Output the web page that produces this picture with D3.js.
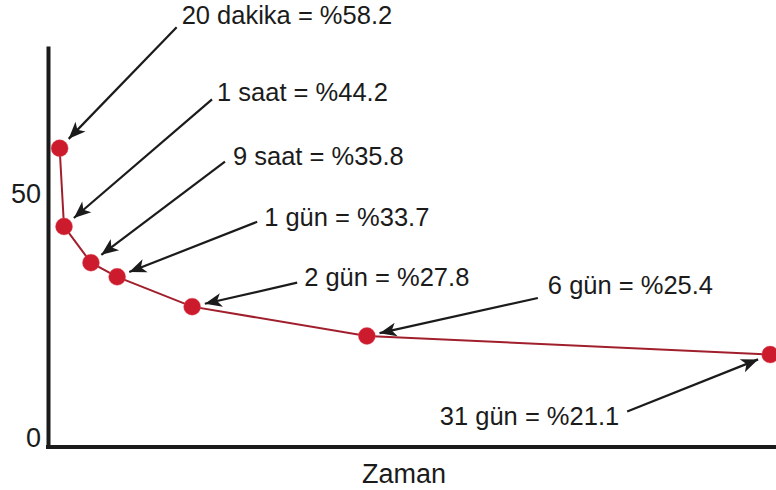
<!DOCTYPE html>
<html>
<head>
<meta charset="utf-8">
<script src="https://cdn.jsdelivr.net/npm/d3@7"></script>
<style>
  html, body { margin: 0; padding: 0; background: #fff; }
  svg { display: block; }
</style>
</head>
<body>
<svg id="chart"></svg>
<script>
// Ebbinghaus style forgetting curve (time axis drawn unscaled in the original)
const times = ["20 dakika", "1 saat", "9 saat", "1 gün", "2 gün", "6 gün", "31 gün"];
const retained = ["58.2", "44.2", "35.8", "33.7", "27.8", "25.4", "21.1"];
// position along the (schematic) time axis, 0-100
const timeAxis = [1.6, 2.2, 5.9, 9.5, 19.8, 43.8, 99.2];
// plotted height of each point, read against the 0 / 50 labels
const plotted = [61.1, 45.1, 37.7, 34.8, 28.7, 22.7, 18.9];
const yTicks = [0, 50];

const width = 776;
const height = 490;
const svg = d3.select("#chart")
    .attr("width", width)
    .attr("height", height)
    .attr("viewBox", [0, 0, width, height])
    .style("font-family", "'Liberation Sans', Arial, sans-serif");

const x = d3.scaleLinear().domain([0, 100]).range([48, 776]);
const y = d3.scaleLinear().domain([0, 82]).range([447, 46]);

const data = times.map((t, i) => ({
    label: `${t} = %${retained[i]}`,
    t: timeAxis[i],
    v: plotted[i]
}));

const ink = "#1b1b1b";

// arrow head
svg.append("defs").append("marker")
    .attr("id", "head")
    .attr("viewBox", "-18 -8 19 16")
    .attr("refX", 0)
    .attr("refY", 0)
    .attr("markerWidth", 19)
    .attr("markerHeight", 16)
    .attr("markerUnits", "userSpaceOnUse")
    .attr("orient", "auto")
    .append("path")
    .attr("d", "M0,0L-17,-7L-12.5,0L-17,7Z")
    .attr("fill", ink);

// axes
const yAxis = svg.append("g")
    .attr("transform", `translate(${x(0)},0)`)
    .call(d3.axisLeft(y).tickValues(yTicks).tickSize(0).tickSizeOuter(0).tickPadding(7));
yAxis.select(".domain").attr("stroke", ink).attr("stroke-width", 4);
yAxis.selectAll("text")
    .attr("fill", ink)
    .attr("font-size", 27)
    .attr("font-family", "'Liberation Sans', Arial, sans-serif")
    .attr("y", -9);

const xAxis = svg.append("g")
    .attr("transform", `translate(0,${y(0)})`)
    .call(d3.axisBottom(x).tickValues([]).tickSizeOuter(0));
xAxis.select(".domain")
    .attr("stroke", ink)
    .attr("stroke-width", 4)
    .attr("d", `M${x(0) - 2},0H${x(100)}`);

svg.append("text")
    .attr("x", 404)
    .attr("y", 483)
    .attr("text-anchor", "middle")
    .attr("font-size", 27)
    .attr("fill", ink)
    .text("Zaman");

// curve
const line = d3.line().x(d => x(d.t)).y(d => y(d.v));
svg.append("path")
    .datum(data)
    .attr("d", line)
    .attr("fill", "none")
    .attr("stroke", "#a11f2c")
    .attr("stroke-width", 2);

svg.append("g")
    .selectAll("circle")
    .data(data)
    .join("circle")
    .attr("cx", d => x(d.t))
    .attr("cy", d => y(d.v))
    .attr("r", 8.5)
    .attr("fill", "#cc1b2d")
    .attr("stroke", "#e05060")
    .attr("stroke-opacity", 0.4)
    .attr("stroke-width", 1);

// annotation layout: text offset from the point, arrow start offset from the text anchor
const notes = [
    {dx: 122, dy: -124, anchor: "start", ax: -5, ay: 3},
    {dx: 153, dy: -125, anchor: "start", ax: -5, ay: -2},
    {dx: 142, dy: -98, anchor: "start", ax: -8, ay: -3},
    {dx: 147, dy: -51, anchor: "start", ax: -7, ay: -4},
    {dx: 112, dy: -21, anchor: "start", ax: -7, ay: -3},
    {dx: 181, dy: -42, anchor: "start", ax: -10, ay: 4},
    {dx: -151, dy: 70, anchor: "end", ax: 8, ay: -13}
];

const ann = svg.append("g")
    .selectAll("g")
    .data(data)
    .join("g");

ann.append("line")
    .each(function(d, i) {
        const n = notes[i];
        const px = x(d.t), py = y(d.v);
        const sx = px + n.dx + n.ax, sy = py + n.dy + n.ay;
        const len = Math.hypot(sx - px, sy - py);
        const gap = 13;
        d3.select(this)
            .attr("x1", sx)
            .attr("y1", sy)
            .attr("x2", px + (sx - px) / len * gap)
            .attr("y2", py + (sy - py) / len * gap);
    })
    .attr("stroke", ink)
    .attr("stroke-width", 2.2)
    .attr("marker-end", "url(#head)");

ann.append("text")
    .attr("x", (d, i) => x(d.t) + notes[i].dx)
    .attr("y", (d, i) => y(d.v) + notes[i].dy)
    .attr("text-anchor", (d, i) => notes[i].anchor)
    .attr("font-size", 25.5)
    .attr("fill", ink)
    .text(d => d.label);
</script>
</body>
</html>
